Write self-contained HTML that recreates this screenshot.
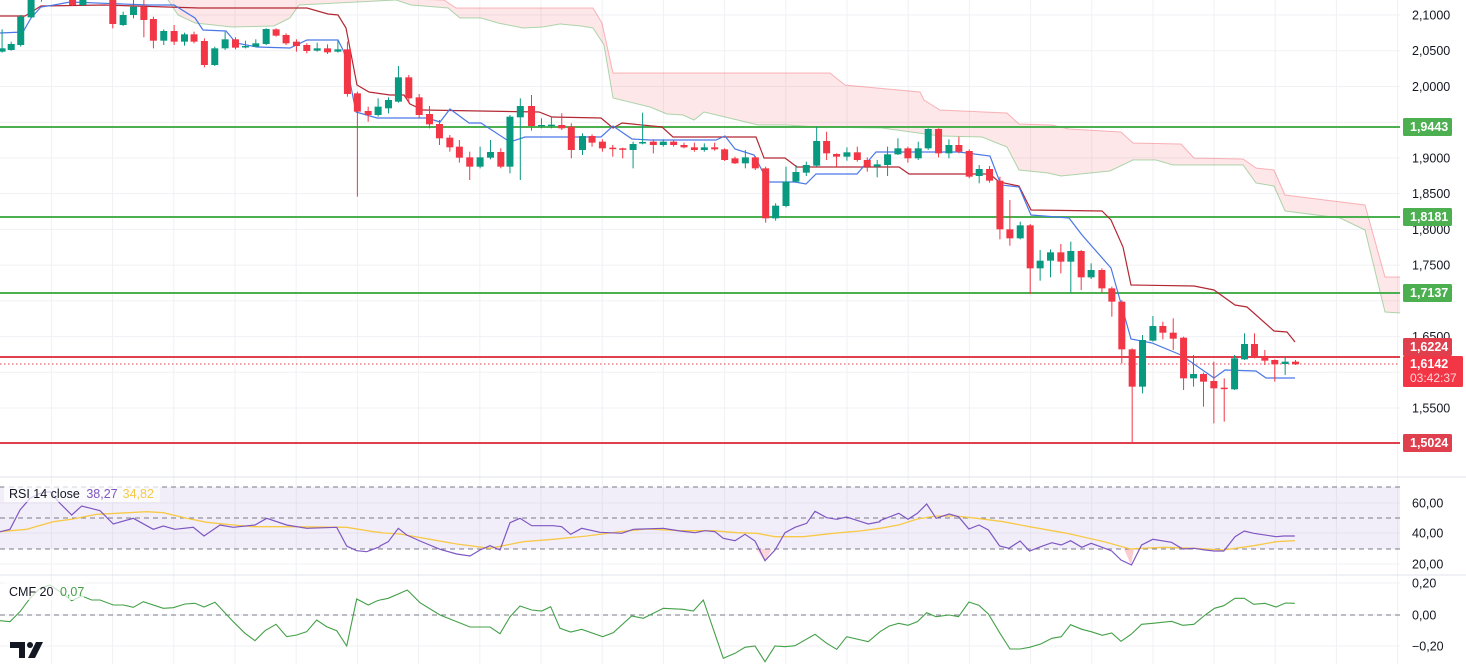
<!DOCTYPE html>
<html><head><meta charset="utf-8"><style>
html,body{margin:0;padding:0;background:#fff;}
svg{display:block;font-family:"Liberation Sans",sans-serif;}
</style></head><body>
<svg id="s" width="1466" height="664" xmlns="http://www.w3.org/2000/svg">
<rect width="1466" height="664" fill="#fff"/>
<g id="grid"></g>
<g id="cloud"></g>
<g id="lines"></g>
<g id="candles"></g>
<g id="ind"></g>
<g id="axis"></g>
<g id="tv">
<path d="M10 642 H25 V658 H19 V648 H10 Z" fill="#131722"/>
<circle cx="30" cy="645" r="3" fill="#131722"/>
<path d="M36 642 H43 L35 658 H28 Z" fill="#131722"/>
</g>
</svg>
<script>
const NS="http://www.w3.org/2000/svg";
function el(p,t,a,txt){const e=document.createElementNS(NS,t);for(const k in a)e.setAttribute(k,a[k]);if(txt!==undefined)e.textContent=txt;document.getElementById(p).appendChild(e);return e;}
const Y=p=>15+(2.1-p)/0.05*35.73;
const RY=v=>549-(v-30)*1.54;
// grid
for(let x=1153;x>0;x-=61.2){el('grid','line',{x1:x,x2:x,y1:0,y2:664,stroke:'#f0f1f4','stroke-width':1});}
for(let x=1214;x<1400;x+=61.2){el('grid','line',{x1:x,x2:x,y1:0,y2:664,stroke:'#f0f1f4','stroke-width':1});}
for(let p=2.1;p>1.49;p-=0.05){const y=Y(p);el('grid','line',{x1:0,x2:1400,y1:y,y2:y,stroke:'#f0f1f4'});}
[503,533,564,583,615,646].forEach(y=>el('grid','line',{x1:0,x2:1400,y1:y,y2:y,stroke:'#f0f1f4'}));
el('grid','line',{x1:0,x2:1466,y1:477,y2:477,stroke:'#e0e3eb'});
el('grid','line',{x1:0,x2:1466,y1:575,y2:575,stroke:'#e0e3eb'});
// cloud
const up=[[160,-5],[300,-5],[357,-3],[444,0],[456,8],[593,8],[602,23],[613,73],[830,73],[845,85],[920,92],[924,100],[940,110],[1007,113],[1019,124],[1052,125],[1069,129],[1121,132],[1133,143],[1181,144],[1194,158],[1243,159],[1256,168],[1274,170],[1285,195],[1365,205],[1385,277],[1400,277]];
const lo=[[160,-5],[168,0],[178,15],[195,23],[232,27],[274,26],[290,18],[299,5],[357,2],[396,0],[411,5],[448,8],[460,18],[481,18],[498,23],[523,28],[543,27],[560,24],[581,26],[593,28],[604,45],[613,98],[650,107],[667,114],[683,115],[694,120],[704,112],[725,117],[758,125],[787,125],[816,127],[882,128],[940,136],[982,137],[1007,147],[1019,170],[1048,173],[1061,176],[1110,171],[1133,160],[1156,160],[1173,165],[1243,165],[1256,183],[1274,186],[1285,211],[1340,218],[1365,230],[1385,312],[1400,313]];
const poly=up.concat(lo.slice().reverse()).map(p=>p.join(',')).join(' ');
el('cloud','polygon',{points:poly,fill:'rgba(242,54,69,0.12)'});
el('cloud','polyline',{points:up.map(p=>p.join(',')).join(' '),fill:'none',stroke:'rgba(242,54,69,0.35)','stroke-width':1});
el('cloud','polyline',{points:lo.map(p=>p.join(',')).join(' '),fill:'none',stroke:'rgba(76,175,80,0.45)','stroke-width':1});
// levels
[[127,'#4caf50'],[217,'#4caf50'],[293,'#4caf50'],[357,'#e0404e'],[443,'#e0404e']].forEach(l=>el('lines','line',{x1:0,x2:1400,y1:l[0],y2:l[0],stroke:l[1],'stroke-width':2}));
el('lines','line',{x1:0,x2:1400,y1:364,y2:364,stroke:'#e0404e','stroke-width':1,'stroke-dasharray':'1.5,2.5'});
// tenkan / kijun
const blue=[[0,33],[23,32],[31,18],[41,7],[54,5],[70,2],[149,5],[174,5],[195,18],[203,30],[226,31],[236,43],[257,47],[290,48],[307,40],[338,40],[344,52],[356,112],[377,118],[427,118],[440,122],[450,109],[469,123],[481,123],[510,142],[525,137],[601,137],[613,126],[632,139],[650,140],[716,140],[725,136],[735,149],[754,155],[768,182],[795,182],[806,184],[816,174],[857,174],[876,152],[959,152],[990,156],[1001,185],[1019,187],[1031,215],[1069,218],[1082,235],[1111,268],[1131,339],[1152,343],[1181,355],[1214,378],[1225,370],[1256,371],[1266,378],[1295,378]];
const kij=[[0,16],[25,16],[41,6],[104,5],[199,8],[307,8],[328,14],[338,15],[346,28],[357,85],[369,92],[390,95],[404,95],[410,104],[423,110],[539,112],[552,117],[601,118],[613,128],[622,123],[662,127],[673,137],[756,137],[764,158],[785,158],[797,167],[899,167],[909,174],[990,174],[999,182],[1019,186],[1031,210],[1102,211],[1111,220],[1123,247],[1131,285],[1194,286],[1214,290],[1235,305],[1247,307],[1274,331],[1287,332],[1295,342]];
el('lines','polyline',{points:kij.map(p=>p.join(',')).join(' '),fill:'none',stroke:'#b22833','stroke-width':1.2});
el('lines','polyline',{points:blue.map(p=>p.join(',')).join(' '),fill:'none',stroke:'#4a78e6','stroke-width':1.2});
// candles
const z3=[[5,145,155,'g',88,158],[27,132,150,'g',125,152],[50,50,135,'g',45,140],[75,0,52,'g',-10,55],[100,-30,0,'g',-40,5],[125,-40,-20,'g',-50,-10],[150,-40,-20,'r',-50,-10],[175,-10,15,'r',-20,18],[200,-10,15,'g',-20,18],[225,-20,-5,'r',-30,0],[250,-20,-5,'g',-30,0],[272,0,72,'r',-5,85],[297,45,75,'g',35,78],[322,20,45,'g',0,55],[347,20,60,'r',0,112],[370,57,122,'r',50,145],[395,93,122,'g',88,135],[420,93,125,'r',75,135],[445,103,125,'g',98,137],[468,103,125,'r',95,130],[493,123,195,'r',115,202],[518,145,195,'g',140,198],[543,118,145,'g',95,150],[568,118,143,'r',112,148],[592,138,142,'g',122,145],[617,130,140,'g',118,142],[642,87,132,'g',85,135],[666,88,107,'r',85,110],[690,105,130,'r',100,135],[715,125,138,'r',118,155],[740,135,153,'r',130,160],[765,145,152,'g',128,155],[790,145,157,'r',133,162],[815,148,155,'g',122,158],[838,148,282,'r',125,290],[862,280,335,'r',275,590],[888,333,345,'r',320,365],[912,320,345,'g',295,350],[937,300,325,'g',292,340],[961,232,305,'g',198,308],[986,232,295,'r',225,310],[1011,292,345,'r',282,355],[1036,342,373,'r',318,385],[1060,372,415,'r',360,435],[1085,413,442,'r',405,455],[1108,440,473,'r',420,488],[1133,472,500,'r',455,540],[1158,472,500,'g',440,505],[1183,456,473,'g',420,478],[1208,456,500,'r',445,505],[1230,350,500,'g',345,520],[1255,318,352,'g',295,540],[1282,318,378,'r',285,392],[1306,375,378,'g',355,385],[1330,374,378,'g',350,385],[1355,375,385,'r',340,390],[1378,380,450,'r',370,475],[1405,408,450,'g',400,465],[1428,408,428,'r',403,440],[1453,425,445,'r',418,455],[1478,443,446,'r',435,470],[1502,445,447,'r',443,475],[1527,432,450,'g',425,505],[1550,426,430,'g',338,433]];
const z4=[[8,125,135,'r',118,160],[32,125,135,'g',118,140],[57,125,135,'r',120,140],[82,135,142,'r',128,145],[107,142,150,'r',128,155],[131,142,150,'g',130,155],[156,142,148,'r',128,152],[180,148,180,'r',145,183],[205,175,190,'r',170,192],[230,172,190,'g',150,205],[254,172,205,'r',168,210],[279,205,355,'r',200,368],[303,317,355,'g',310,362],[328,245,318,'g',200,322],[352,216,245,'g',195,248],[377,195,218,'g',185,228],[402,123,197,'g',80,200],[426,123,160,'r',95,180],[450,162,170,'r',160,200],[475,157,170,'g',142,182],[500,157,180,'r',140,185],[524,180,200,'r',172,215],[548,193,200,'g',180,232],[573,163,195,'g',140,228],[598,145,163,'g',115,165],[622,145,175,'r',140,188],[647,145,175,'g',125,180],[671,87,145,'g',85,150],[696,87,160,'r',85,172],[721,135,160,'g',118,175],[745,135,155,'r',110,160],[770,153,230,'r',148,235],[794,207,228,'g',195,250],[819,207,242,'r',198,248],[844,242,388,'r',230,418],[868,388,415,'r',300,437],[893,376,415,'g',365,418],[917,376,505,'r',372,582],[941,482,505,'g',450,542],[966,457,482,'g',448,532],[991,457,485,'r',432,520],[1015,453,485,'g',425,578],[1040,453,532,'r',450,570],[1064,510,532,'g',490,537],[1090,510,565,'r',505,578],[1114,565,605,'r',560,650],[1138,605,748,'r',600,790],[1163,748,860,'r',745,1030],[1188,720,860,'g',705,880],[1213,678,722,'g',648,725],[1237,678,698,'r',665,718],[1262,698,716,'r',655,750],[1287,713,835,'r',710,870],[1311,822,835,'g',765,860],[1335,822,845,'r',818,920],[1360,843,865,'r',785,970],[1385,863,866,'r',835,965],[1410,775,868,'g',765,870],[1434,732,778,'g',700,780],[1458,732,773,'r',700,775],[1483,768,782,'r',750,795],[1507,780,793,'r',778,845],[1532,785,792,'g',770,825],[1557,785,793,'r',780,795]];
function drawC(list,ox,oy){list.forEach(c=>{const x=ox+c[0]/2.412,t=oy+c[1]/3,b=oy+c[2]/3,wt=oy+c[4]/3,wb=oy+c[5]/3;const col=c[3]=='g'?'#089981':'#f23645';
el('candles','line',{x1:x,x2:x,y1:wt,y2:wb,stroke:col,'stroke-width':1});
el('candles','rect',{x:x-3.5,y:t,width:7,height:Math.max(1.5,b-t),fill:col});});}
drawC(z3,0,0);drawC(z4,650,100);
// RSI
el('ind','rect',{x:0,y:487,width:1400,height:62,fill:'rgba(126,87,194,0.1)'});
[487,518,549].forEach(y=>el('ind','line',{x1:0,x2:1400,y1:y,y2:y,stroke:'#787b86','stroke-dasharray':'5,4','stroke-width':1}));
el('ind','line',{x1:0,x2:1400,y1:615,y2:615,stroke:'#787b86','stroke-dasharray':'5,4'});
function tr(a,ox,oy,fx){return a.map(p=>[(ox+p[0]/fx).toFixed(1),(oy+p[1]/3).toFixed(1)].join(',')).join(' ');}
const rp2=[[0,185],[30,178],[60,120],[90,85],[120,70],[150,65],[180,100],[215,135],[245,108],[300,122],[340,162],[400,145],[460,178],[490,168],[525,178],[580,172],[612,198],[660,165],[700,172],[765,165],[800,145],[860,165],[920,175],[1010,172],[1040,228],[1070,242],[1100,245],[1140,230]];
const ry2=[[0,185],[80,178],[160,155],[220,147],[290,133],[350,130],[440,125],[490,128],[560,145],[620,157],[700,165],[760,170],[860,170],[1040,172],[1120,185],[1140,187]];
const rp5=[[0,198],[25,185],[55,145],[80,165],[120,183],[180,208],[230,222],[270,228],[300,210],[330,197],[360,210],[390,128],[420,115],[455,137],[520,137],[545,140],[572,163],[605,145],[660,157],[725,160],[760,148],[850,145],[900,153],[945,158],[975,152],[1005,155],[1030,175],[1065,182],[1095,163],[1125,183],[1155,242],[1185,210],[1215,158],[1245,142],[1280,130],[1305,94],[1340,113],[1370,118],[1400,111],[1440,124],[1465,132],[1500,125]];
const ry5=[[0,158],[60,162],[150,178],[230,192],[330,205],[430,185],[520,178],[620,168],[720,155],[800,147],[900,152],[1000,152],[1070,158],[1130,160],[1185,170],[1270,170],[1360,160],[1440,153],[1500,145]];
const rp6=[[0,122],[20,113],[50,100],[75,118],[100,100],[125,72],[150,115],[185,102],[210,110],[238,147],[265,135],[290,150],[320,198],[345,205],[375,183],[400,213],[430,200],[460,188],[485,195],[510,182],[540,202],[565,190],[590,200],[620,213],[645,240],[673,255],[700,195],[730,178],[780,187],[810,207],[840,205],[870,210],[895,213],[920,213],[950,170],[975,153],[1000,160],[1060,170],[1080,168],[1110,168]];
const ry6=[[0,145],[50,135],[100,117],[150,108],[200,108],[260,115],[330,125],[400,140],[500,160],[600,185],[670,207],[700,205],[760,202],[840,205],[920,210],[950,205],[1000,197],[1060,185],[1110,182]];
el('ind','polygon',{points:'1124,549 1131,565 1134,549',fill:'rgba(242,54,69,0.25)'});
el('ind','polygon',{points:'756,549 765,561 772,549',fill:'rgba(242,54,69,0.2)'});
el('ind','polyline',{points:tr(ry2,0,470,3)+' '+tr(ry5,380,480,3)+' '+tr(ry6,880,480,2.676),fill:'none',stroke:'#f7c948','stroke-width':1.3});
el('ind','polyline',{points:tr(rp2,0,470,3)+' '+tr(rp5,380,480,3)+' '+tr(rp6,880,480,2.676),fill:'none',stroke:'#7e57c2','stroke-width':1.2});
const c2=[[0,452],[30,455],[60,425],[90,385],[120,355],[150,345],[180,365],[215,392],[245,378],[275,390],[300,390],[340,405],[370,405],[400,412],[430,395],[490,415],[520,413],[555,402],[585,400],[612,411],[645,397],[700,455],[735,490],[765,512],[795,482],[828,463],[860,500],[890,495],[920,485],[950,450],[980,470],[1010,482],[1040,528],[1070,387],[1105,405],[1130,393]];
const c5=[[0,360],[25,355],[82,330],[120,368],[180,405],[270,441],[330,441],[360,461],[390,410],[420,378],[455,390],[485,393],[512,380],[540,445],[572,456],[605,448],[668,470],[700,458],[755,408],[790,415],[850,385],[910,388],[940,393],[970,360],[1030,535],[1065,520],[1095,502],[1125,498],[1155,545],[1185,498],[1215,500],[1245,497],[1305,463],[1340,490],[1370,508],[1400,470],[1465,485],[1500,455]];
const c6=[[0,455],[25,438],[50,430],[75,436],[100,425],[125,398],[150,410],[185,405],[210,410],[238,366],[265,376],[290,402],[320,458],[348,507],[375,507],[400,502],[430,492],[460,475],[485,470],[510,434],[540,448],[565,455],[595,466],[620,459],[645,484],[673,462],[700,433],[730,430],[780,424],[810,436],[840,433],[870,405],[895,385],[920,377],[950,355],[975,355],[1000,373],[1030,370],[1060,381],[1085,369],[1110,370]];
el('ind','polyline',{points:tr(c2,0,470,3)+' '+tr(c5,380,480,3)+' '+tr(c6,880,480,2.676),fill:'none',stroke:'#43a047','stroke-width':1.1});
// legends
el('ind','rect',{x:4,y:484,width:156,height:18,fill:'rgba(255,255,255,0.7)'});
const t1=el('ind','text',{x:9,y:498,'font-size':12.5,fill:'#131722'});
t1.innerHTML='RSI 14 close <tspan fill="#7e57c2" dx="3">38,27</tspan><tspan fill="#f7c948" dx="5">34,82</tspan>';
el('ind','rect',{x:4,y:582,width:80,height:18,fill:'rgba(255,255,255,0.7)'});
const t2=el('ind','text',{x:9,y:596,'font-size':12.5,fill:'#131722'});
t2.innerHTML='CMF 20 <tspan fill="#43a047" dx="3">0,07</tspan>';
// axis labels
[['2,1000',2.1],['2,0500',2.05],['2,0000',2.0],['1,9000',1.9],['1,8500',1.85],['1,8000',1.8],['1,7500',1.75],['1,6500',1.65],['1,5500',1.55]].forEach(a=>el('axis','text',{x:1412,y:Y(a[1])+4.5,'font-size':12.5,fill:'#131722'},a[0]));
[['60,00',503],['40,00',533],['20,00',564],['0,20',583],['0,00',615],['−0,20',646]].forEach(a=>el('axis','text',{x:1412,y:a[1]+4.5,'font-size':12.5,fill:'#131722'},a[0]));
function box(y,h,col,txt,txt2){el('axis','rect',{x:1403,y:y,width:49,height:h,fill:col,rx:1.5});el('axis','text',{x:1410,y:y+13,'font-size':12.5,fill:'#fff','font-weight':'bold'},txt);if(txt2)el('axis','text',{x:1410,y:y+27,'font-size':12.5,fill:'#fff'},txt2);}
box(118,18,'#4caf50','1,9443');box(208,18,'#4caf50','1,8181');box(284,18,'#4caf50','1,7137');
box(434,18,'#e0404e','1,5024');
box(338,18,'#e0404e','1,6224');
el('axis','rect',{x:1403,y:356,width:60,height:31,fill:'#f23645',rx:1.5});
el('axis','text',{x:1410,y:368,'font-size':12.5,fill:'#fff','font-weight':'bold'},'1,6142');
el('axis','text',{x:1410,y:382,'font-size':12,fill:'#ffd6da'},'03:42:37');
</script>
</body></html>
